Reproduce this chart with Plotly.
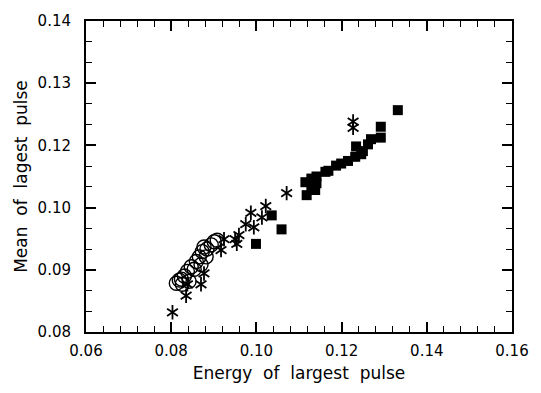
import plotly.graph_objects as go

# Data (y in axis coordinates; axis labels are as printed)
circle_x = [0.0812, 0.0824, 0.0831, 0.0838, 0.0847, 0.0859, 0.0866, 0.0873, 0.0884, 0.0894,
            0.0901, 0.0908, 0.0882, 0.0870, 0.0854, 0.0826, 0.0842, 0.0819, 0.0877]
circle_y = [0.0894, 0.0902, 0.0908, 0.0917, 0.0926, 0.0936, 0.0945, 0.0955, 0.0960, 0.0968,
            0.0974, 0.0977, 0.0945, 0.0930, 0.0921, 0.0892, 0.0898, 0.0900, 0.0964]

star_x = [0.1227, 0.1227, 0.1071, 0.1022, 0.1013, 0.0987, 0.0994, 0.0975, 0.0959, 0.0954,
          0.0950, 0.0924, 0.0917, 0.0877, 0.0870, 0.0838, 0.0835, 0.0803]
star_y = [0.1206, 0.1194, 0.1068, 0.1043, 0.1021, 0.1030, 0.1002, 0.1008, 0.0987, 0.0970,
          0.0979, 0.0979, 0.0958, 0.0913, 0.0892, 0.0892, 0.0870, 0.0838]

square_x = [0.1332, 0.1292, 0.1292, 0.1269, 0.1262, 0.1234, 0.1250, 0.1246, 0.1232, 0.1215,
            0.1199, 0.1187, 0.1169, 0.1162, 0.1141, 0.1129, 0.1115, 0.1141, 0.1129, 0.1138,
            0.1118, 0.1036, 0.1059, 0.0999]
square_y = [0.1228, 0.1196, 0.1175, 0.1172, 0.1162, 0.1158, 0.1149, 0.1143, 0.1138, 0.1130,
            0.1125, 0.1121, 0.1111, 0.1109, 0.1100, 0.1096, 0.1089, 0.1087, 0.1081, 0.1074,
            0.1064, 0.1025, 0.0998, 0.0970]

x_ticks = [0.06, 0.08, 0.10, 0.12, 0.14, 0.16]
x_ticktext = ["0.06", "0.08", "0.10", "0.12", "0.14", "0.16"]
y_ticks = [0.08, 0.092, 0.104, 0.116, 0.128, 0.14]
y_ticktext = ["0.08", "0.09", "0.10", "0.12", "0.13", "0.14"]

fig = go.Figure()
fig.add_trace(go.Scatter(x=circle_x, y=circle_y, mode="markers",
                         marker=dict(symbol="circle-open", size=14, color="black",
                                     line=dict(width=1.4, color="black"))))
for sym in ["y-up-open", "y-down-open"]:
    fig.add_trace(go.Scatter(x=star_x, y=star_y, mode="markers",
                             marker=dict(symbol=sym, size=9, color="black",
                                         line=dict(width=1.8, color="black"))))
fig.add_trace(go.Scatter(x=square_x, y=square_y, mode="markers",
                         marker=dict(symbol="square", size=10, color="black",
                                     line=dict(width=0))))

axis_common = dict(showgrid=False, zeroline=False, showline=True, linecolor="black",
                   linewidth=2, mirror="ticks", ticks="inside", ticklen=10, tickwidth=1.5,
                   tickcolor="black",
                   tickfont=dict(family="DejaVu Sans", size=15, color="black"))

fig.update_xaxes(range=[0.06, 0.16], tickvals=x_ticks, ticktext=x_ticktext,
                 minor=dict(dtick=0.004, tick0=0.06, ticks="inside", ticklen=6,
                            tickwidth=1.2, tickcolor="black", showgrid=False),
                 ticklabelstandoff=4,
                 title=dict(text="Energy\u00a0 of\u00a0 largest\u00a0 pulse",
                            font=dict(family="DejaVu Sans", size=17, color="black"),
                            standoff=8),
                 **axis_common)
fig.update_yaxes(range=[0.08, 0.14], tickvals=y_ticks, ticktext=y_ticktext,
                 minor=dict(dtick=0.004, tick0=0.08, ticks="inside", ticklen=6,
                            tickwidth=1.2, tickcolor="black", showgrid=False),
                 ticklabelstandoff=10,
                 title=dict(text="Mean\u00a0 of\u00a0 lagest\u00a0 pulse",
                            font=dict(family="DejaVu Sans", size=17, color="black"),
                            standoff=6),
                 **axis_common)

fig.update_layout(width=541, height=393, margin=dict(l=86, r=26, t=14, b=61),
                  paper_bgcolor="white", plot_bgcolor="white", showlegend=False)

fig.write_html("out.html")
